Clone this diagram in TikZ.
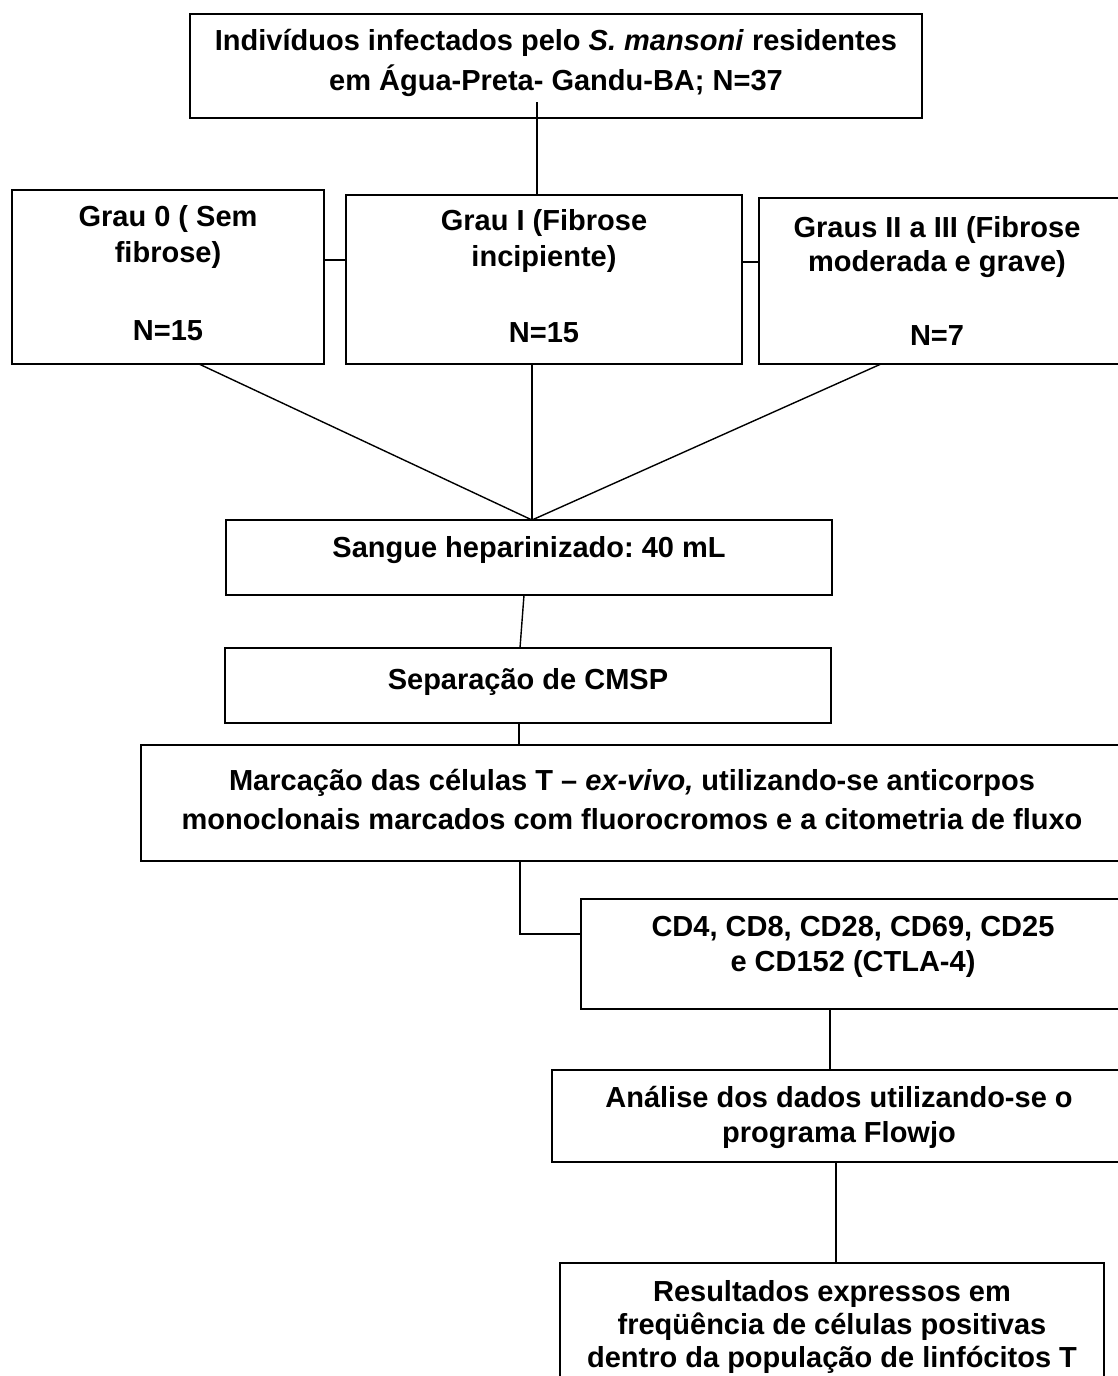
\documentclass[tikz,border=0pt]{standalone}
\usepackage{fontspec}
\setmainfont{Liberation Sans}
\frenchspacing
\begin{document}
\begin{tikzpicture}[x=1pt,y=-1pt,
  box/.style={draw=black, line width=1.5pt, rectangle, inner sep=0pt, fill=none},
  txt/.style={font=\fontsize{29}{36}\selectfont\bfseries, align=center, inner sep=0pt, text=black},
  conn/.style={draw=black, line width=1.4pt}]
\useasboundingbox (0,0) rectangle (1117,1376);
\fill[white] (0,0) rectangle (1117,1376);

% boxes
\node[box, minimum width=732pt, minimum height=104pt] (top) at (556,66) {};
\node[box, minimum width=312pt, minimum height=174pt] (g0) at (168,277) {};
\node[box, minimum width=396pt, minimum height=169pt] (g1) at (544,279.5) {};
\node[box, minimum width=371pt, minimum height=166pt] (g2) at (944.5,281) {};
\node[box, minimum width=606pt, minimum height=75pt] (sang) at (529,557.5) {};
\node[box, minimum width=606pt, minimum height=75pt] (sep) at (528,685.5) {};
\node[box, minimum width=989pt, minimum height=116pt] (marc) at (635.5,803) {};
\node[box, minimum width=549pt, minimum height=110pt] (cd) at (855.5,954) {};
\node[box, minimum width=578pt, minimum height=92pt] (anal) at (841,1116) {};
\node[box, minimum width=544pt, minimum height=137pt] (res) at (832,1331.5) {};

% texts
\node[txt, font=\fontsize{29}{40}\selectfont\bfseries] (topT) at (556,63)
  {Indivíduos infectados pelo \textit{S. mansoni} residentes\\em Água-Preta- Gandu-BA; N=37};
\node[txt] (g0T) at (168,273) {Grau 0 ( Sem\\fibrose)\\[42pt]N=15};
\node[txt] (g1T) at (544,276) {Grau I (Fibrose\\incipiente)\\[40pt]N=15};
\node[txt, font=\fontsize{29}{34}\selectfont\bfseries] (g2T) at (937,281) {Graus II a III (Fibrose\\moderada e grave)\\[40pt]N=7};
\node[txt] (sangT) at (529,550) {Sangue heparinizado: 40 mL};
\node[txt] (sepT) at (528,682) {Separação de CMSP};
\node[txt, font=\fontsize{29}{39}\selectfont\bfseries] (marcT) at (632,799)
  {Marcação das células T – \textit{ex-vivo,} utilizando-se anticorpos\\monoclonais marcados com fluorocromos e a citometria de fluxo};
\node[txt, font=\fontsize{29}{35}\selectfont\bfseries] (cdT) at (853,947) {CD4, CD8, CD28, CD69, CD25\\e CD152 (CTLA-4)};
\node[txt, font=\fontsize{29}{35}\selectfont\bfseries] (analT) at (839,1117) {Análise dos dados utilizando-se o\\programa Flowjo};
\node[txt, font=\fontsize{29}{33}\selectfont\bfseries] (resT) at (832,1327) {Resultados expressos em\\freqüência de células positivas\\dentro da população de linfócitos T};

% connectors
\coordinate (topc) at (537,102);
\draw[conn] (topc) -- (topc |- g1.north);
\coordinate (h1) at (0,260);
\coordinate (h2) at (0,262);
\draw[conn] (g0.east |- h1) -- (g1.west |- h1);
\draw[conn] (g1.east |- h2) -- (g2.west |- h2);
\coordinate (meet) at (532,520);
\coordinate (g0b) at (199,364);
\coordinate (g1b) at (532,364);
\coordinate (g2b) at (881,364);
\draw[conn] (g0b) -- (meet);
\draw[conn] (g1b) -- (meet);
\draw[conn] (g2b) -- (meet);
\coordinate (s1) at (524,595);
\coordinate (s2) at (520,648);
\draw[conn] (s1) -- (s2);
\coordinate (p1) at (519,723);
\draw[conn] (p1) -- (p1 |- marc.north);
\coordinate (m1) at (520,861);
\coordinate (m2) at (520,934);
\draw[conn] (m1) -- (m2) -- (m2 -| cd.west);
\coordinate (c1) at (830,1009);
\draw[conn] (c1) -- (c1 |- anal.north);
\coordinate (a1) at (836,1162);
\draw[conn] (a1) -- (a1 |- res.north);
\end{tikzpicture}
\end{document}
